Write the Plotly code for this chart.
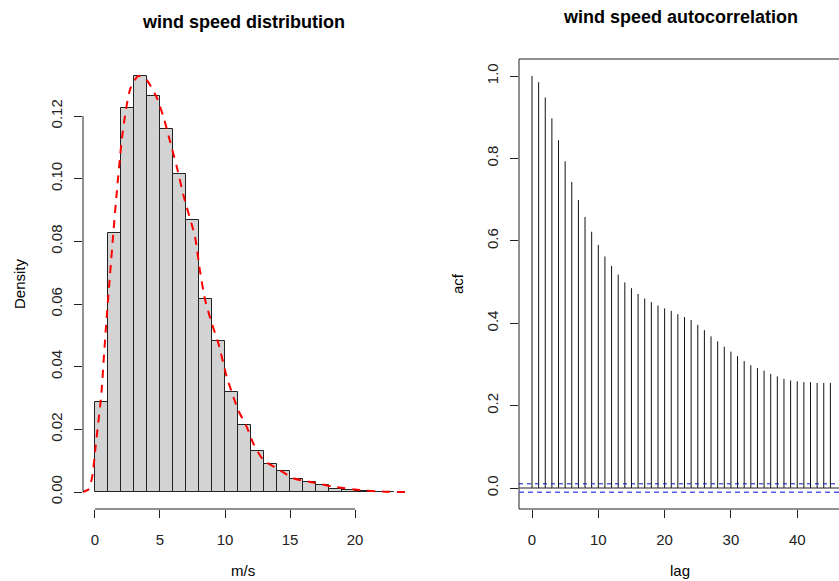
import plotly.graph_objects as go

# ---------------- data ----------------
bin_left = list(range(0, 23))
hist_density = [0.0288, 0.0826, 0.1225, 0.1327, 0.1263, 0.1158, 0.1014, 0.0868,
                0.0616, 0.0481, 0.0319, 0.0214, 0.0131, 0.0088, 0.0068, 0.0040,
                0.0031, 0.0021, 0.0011, 0.0006, 0.0003, 0.0001, 0.00005]

dens_x = [-1.0, -0.5, -0.21, 0.05, 0.25, 0.44, 0.54, 0.85, 1.15, 1.41, 1.6, 2.05,
          2.38, 2.74, 3.33, 3.97, 4.74, 5.26, 5.77, 6.28, 6.85, 7.69, 8.08, 8.46,
          8.97, 9.49, 10.13, 10.64, 11.03, 11.67, 12.18, 12.95, 13.98, 15.26,
          16.79, 18.33, 20.4, 22.3, 24.0]
dens_y = [0.0, 0.0008, 0.0049, 0.0145, 0.022, 0.029, 0.034, 0.053, 0.069, 0.0826,
          0.092, 0.112, 0.122, 0.129, 0.1328, 0.1315, 0.126, 0.1198, 0.112, 0.104,
          0.094, 0.0815, 0.0705, 0.0615, 0.054, 0.0475, 0.0368, 0.0304, 0.026,
          0.0208, 0.0155, 0.0102, 0.0076, 0.0044, 0.003, 0.0017, 0.0006, 0.0001, 0.0]

lags = list(range(0, 46))
acf_vals = [1.0, 0.985, 0.948, 0.897, 0.844, 0.793, 0.743, 0.699, 0.658, 0.622,
            0.590, 0.562, 0.539, 0.518, 0.499, 0.485, 0.471, 0.460, 0.451, 0.443,
            0.436, 0.430, 0.422, 0.415, 0.408, 0.396, 0.383, 0.368, 0.356, 0.343,
            0.331, 0.320, 0.308, 0.298, 0.291, 0.285, 0.277, 0.271, 0.265, 0.261,
            0.259, 0.257, 0.257, 0.255, 0.255, 0.255]
ci = 0.0102

hist_xticks = [0, 5, 10, 15, 20]
hist_yticks = [0.00, 0.02, 0.04, 0.06, 0.08, 0.10, 0.12]
acf_xticks = [0, 10, 20, 30, 40]
acf_yticks = [0.0, 0.2, 0.4, 0.6, 0.8, 1.0]

# ---------------- figure ----------------
W, H = 839, 581
FONT = "Liberation Sans, Arial, sans-serif"

fig = go.Figure()

fig.add_trace(go.Bar(
    x=[b + 0.5 for b in bin_left], y=hist_density, width=1,
    marker=dict(color="#d3d3d3", line=dict(color="#222222", width=1)),
    xaxis="x", yaxis="y", showlegend=False, hoverinfo="skip"))

fig.add_trace(go.Scatter(
    x=dens_x, y=dens_y, mode="lines",
    line=dict(color="red", width=2, dash="8px,7px", shape="spline", smoothing=0.6),
    xaxis="x", yaxis="y", showlegend=False, hoverinfo="skip"))

stem_x, stem_y = [], []
for l, a in zip(lags, acf_vals):
    stem_x += [l, l, None]
    stem_y += [0, a, None]
fig.add_trace(go.Scatter(
    x=stem_x, y=stem_y, mode="lines",
    line=dict(color="#111111", width=1),
    xaxis="x2", yaxis="y2", showlegend=False, hoverinfo="skip"))

ydom = [(H - 509) / H, (H - 59) / H]

axis_common = dict(showgrid=False, zeroline=False, showline=False,
                   ticks="outside", ticklen=8, tickwidth=1, tickcolor="#222222",
                   tickfont=dict(family=FONT, size=15, color="#222222"))

fig.update_layout(
    width=W, height=H,
    margin=dict(l=0, r=0, t=0, b=0),
    paper_bgcolor="white", plot_bgcolor="white",
    bargap=0,
    xaxis=dict(domain=[83 / W, 406 / W], range=[-0.92, 23.92],
               tickmode="array", tickvals=hist_xticks,
               ticktext=[str(v) for v in hist_xticks],
               anchor="y", ticklabelstandoff=9, **axis_common),
    yaxis=dict(domain=ydom, range=[-17 / 3133, 433 / 3133],
               tickmode="array", tickvals=hist_yticks,
               ticktext=["%.2f" % v for v in hist_yticks],
               tickangle=-90, anchor="x", ticklabelstandoff=6, **axis_common),
    xaxis2=dict(domain=[519 / W, 1.0], range=[-1.96, 46.3],
                tickmode="array", tickvals=acf_xticks,
                ticktext=[str(v) for v in acf_xticks],
                anchor="y2", ticklabelstandoff=9, **axis_common),
    yaxis2=dict(domain=ydom, range=[-21 / 412, 429 / 412],
                tickmode="array", tickvals=acf_yticks,
                ticktext=["%.1f" % v for v in acf_yticks],
                tickangle=-90, anchor="x2", ticklabelstandoff=6, **axis_common),
)

line_k = dict(color="#222222", width=1)
shapes = [
    # histogram axis lines (R style: from first to last tick)
    dict(type="line", xref="x", yref="y domain", x0=hist_xticks[0], x1=hist_xticks[-1], y0=0, y1=0, line=line_k),
    dict(type="line", xref="x domain", yref="y", x0=0, x1=0, y0=hist_yticks[0], y1=hist_yticks[-1], line=line_k),
    # acf box (right side is beyond the picture)
    dict(type="line", xref="x2 domain", yref="y2 domain", x0=0, x1=1, y0=1, y1=1, line=line_k),
    dict(type="line", xref="x2 domain", yref="y2 domain", x0=0, x1=0, y0=0, y1=1, line=line_k),
    dict(type="line", xref="x2 domain", yref="y2 domain", x0=0, x1=1, y0=0, y1=0, line=line_k),
    # zero line
    dict(type="line", xref="x2 domain", yref="y2", x0=0, x1=1, y0=0, y1=0, line=line_k),
    # confidence bounds
    dict(type="line", xref="x2 domain", yref="y2", x0=0, x1=1, y0=ci, y1=ci,
         line=dict(color="#1010d0", width=1, dash="4px,4px")),
    dict(type="line", xref="x2 domain", yref="y2", x0=0, x1=1, y0=-ci, y1=-ci,
         line=dict(color="#5a5aff", width=1.5, dash="5px,4px")),
]
fig.update_layout(shapes=shapes)

def ann(text, x, y, size=15, bold=False, angle=0):
    return dict(text=("<b>%s</b>" % text) if bold else text,
                xref="paper", yref="paper", x=x / W, y=1 - y / H,
                xanchor="center", yanchor="middle", showarrow=False,
                textangle=angle, font=dict(family=FONT, size=size, color="black"))

fig.update_layout(annotations=[
    ann("wind speed distribution", 243, 22, size=18, bold=True),
    ann("wind speed autocorrelation", 680, 17, size=18, bold=True),
    ann("m/s", 243, 570),
    ann("lag", 680, 570),
    ann("Density", 19, 284, angle=-90),
    ann("acf", 457, 284, angle=-90),
])

fig.write_html("out.html")
